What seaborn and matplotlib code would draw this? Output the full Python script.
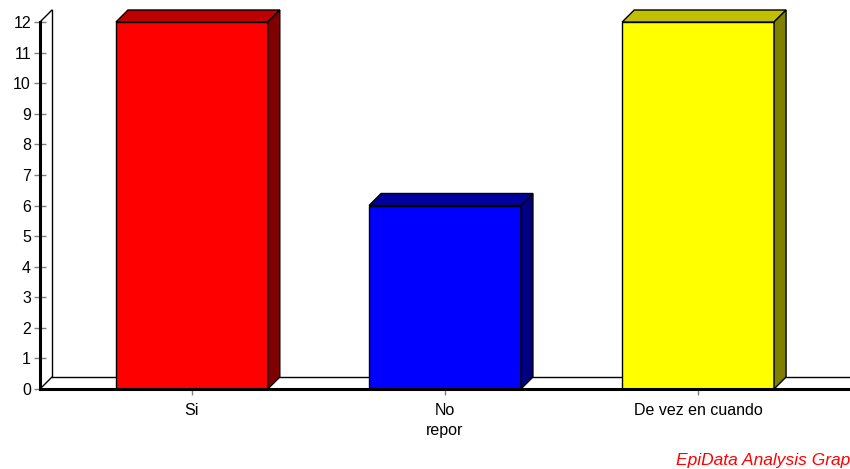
import matplotlib
matplotlib.use("Agg")
import matplotlib.pyplot as plt
import seaborn as sns
from matplotlib.patches import Polygon

# datos
categorias = ["Si", "No\nrepor", "De vez en cuando"]
frecuencias = [12, 6, 12]
colores_frente = ["#ff0000", "#0000ff", "#ffff00"]
colores_arriba = ["#c00000", "#0000a0", "#c0c000"]
colores_lado = ["#800000", "#000080", "#808000"]

sns.set_style("white")
plt.rcParams["font.family"] = ["Liberation Sans", "DejaVu Sans"]

fig = plt.figure(figsize=(8.5, 4.69), dpi=100)
ax = fig.add_axes([40 / 850, 80 / 469, 810 / 850, 367 / 469])

sns.barplot(x=categorias, y=frecuencias, hue=categorias, palette=colores_frente,
            legend=False, width=0.6, edgecolor="black", linewidth=1,
            saturation=1, ax=ax, zorder=3)

ax.set_xlim(-0.6, 2.6)
ax.set_ylim(0, 12)
ax.set_yticks(range(0, 13))

# profundidad del efecto 3D (en unidades de datos)
dx = 12 / 253
dy = 12 / (367 / 12)

# pared y piso del fondo
ax.plot([-0.6, -0.6 + dx], [12, 12 + dy], color="black", lw=1, clip_on=False, zorder=1)
ax.plot([-0.6 + dx, -0.6 + dx], [dy, 12 + dy], color="black", lw=1, clip_on=False, zorder=1)
ax.plot([-0.6, -0.6 + dx], [0, dy], color="black", lw=1, clip_on=False, zorder=1)
ax.plot([-0.6 + dx, 2.6], [dy, dy], color="black", lw=1, clip_on=False, zorder=1)

for i, p in enumerate(ax.patches):
    x, w, h = p.get_x(), p.get_width(), p.get_height()
    arriba = Polygon([(x, h), (x + dx, h + dy), (x + w + dx, h + dy), (x + w, h)],
                     closed=True, facecolor=colores_arriba[i], edgecolor="black",
                     lw=1, clip_on=False, zorder=4)
    lado = Polygon([(x + w, 0), (x + w + dx, dy), (x + w + dx, h + dy), (x + w, h)],
                   closed=True, facecolor=colores_lado[i], edgecolor="black",
                   lw=1, clip_on=False, zorder=4)
    ax.add_patch(arriba)
    ax.add_patch(lado)

for s in ["top", "right"]:
    ax.spines[s].set_visible(False)
for s in ["left", "bottom"]:
    ax.spines[s].set_linewidth(2.2)
    ax.spines[s].set_color("black")
    ax.spines[s].set_zorder(5)

ax.tick_params(axis="y", direction="inout", length=9, width=1, color="gray",
               labelsize=11.5, labelcolor="black", pad=2, left=True)
ax.tick_params(axis="x", direction="out", length=4, width=1, color="gray",
               labelsize=11.5, labelcolor="black", pad=6, bottom=True)
for t in ax.get_xticklabels():
    t.set_linespacing(1.45)

fig.text(676 / 850, 1 - 460 / 469, "EpiData Analysis Graph", color="red",
         style="italic", fontsize=12.5, ha="left", va="center")

fig.savefig("out.png", dpi=100)
